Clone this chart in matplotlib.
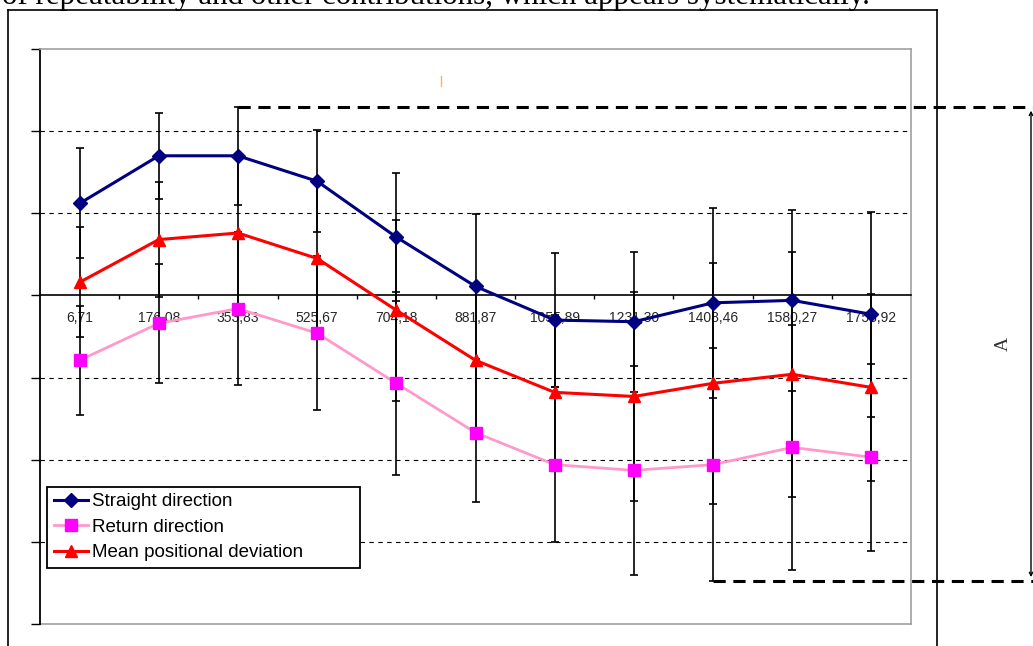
import numpy as np
import matplotlib.pyplot as plt
from matplotlib.lines import Line2D

plt.rcParams['font.family'] = ['Liberation Sans', 'DejaVu Sans']

# Measuring positions (mm) along the axis
positions = ["6,71", "176,08", "353,83", "525,67", "704,18", "881,87",
             "1055,89", "1231,30", "1408,46", "1580,27", "1758,92"]

# Mean deviations and their +/- spread for each direction
straight = [1.12, 1.70, 1.70, 1.39, 0.71, 0.11, -0.30, -0.32, -0.09, -0.06, -0.23]
straight_err = [0.67, 0.52, 0.60, 0.62, 0.78, 0.88, 0.82, 0.85, 1.16, 1.10, 1.25]

ret = [-0.79, -0.34, -0.16, -0.46, -1.07, -1.67, -2.06, -2.13, -2.06, -1.85, -1.97]
ret_err = [0.66, 0.72, 0.93, 0.94, 1.11, 0.84, 0.94, 1.27, 1.42, 1.49, 1.14]

mean_dev = [0.16, 0.68, 0.76, 0.45, -0.18, -0.79, -1.18, -1.23, -1.07, -0.96, -1.12]
mean_err = [0.67, 0.70, 0.93, 0.94, 1.10, 0.88, 0.94, 1.27, 1.47, 1.49, 1.14]

W, H = 1033, 646
fig = plt.figure(figsize=(W / 100, H / 100), dpi=100)
ax = fig.add_axes([40 / W, (H - 624) / H, 871 / W, 575 / H])

x = np.arange(len(positions))
ax.set_xlim(-0.5, len(positions) - 0.5)
ax.set_ylim(-4, 3)

# y axis: ticks only, dashed grid in between
ax.set_yticks(np.arange(-4, 4))
ax.set_yticklabels([])
ax.tick_params(axis='y', direction='out', length=6.5, width=1, color='black')
ax.yaxis.grid(True, color='black', lw=0.8, ls=(0, (4, 4)))
for g, v in zip(ax.get_ygridlines(), np.arange(-4, 4)):
    if v in (-4, 0, 3):
        g.set_visible(False)

# x axis sits on zero, ticks between categories, labels under each category
ax.spines['bottom'].set_position(('data', 0))
ax.spines['bottom'].set_color('black')
ax.spines['bottom'].set_linewidth(1.2)
ax.spines['left'].set_color('black')
ax.spines['left'].set_linewidth(1.3)
for s in ['top', 'right']:
    ax.spines[s].set_color('#a0a0a0')
    ax.spines[s].set_linewidth(1.2)
ax.axhline(-4, color='#a0a0a0', lw=1.2, clip_on=False, zorder=0.5)

ax.set_xticks(x[:-1] + 0.5)
ax.set_xticklabels([])
ax.tick_params(axis='x', which='major', direction='out', length=3, width=1, color='black')
ax.set_xticks(x, minor=True)
ax.set_xticklabels(positions, minor=True, fontsize=10, color='#262626')
ax.tick_params(axis='x', which='minor', length=0, pad=11)

# error bars
for vals, errs in [(straight, straight_err), (ret, ret_err), (mean_dev, mean_err)]:
    ax.errorbar(x, vals, yerr=errs, fmt='none', ecolor='black', elinewidth=1.2,
                capsize=3, capthick=1.2, zorder=2)

ax.plot(x, ret, color='#ff99cc', lw=2, marker='s', ms=8, mfc='#ff00ff', mec='#ff00ff',
        label='Return direction', zorder=3)
ax.plot(x, mean_dev, color='#ff0000', lw=2.2, marker='^', ms=9,
        label='Mean positional deviation', zorder=3.5)
ax.plot(x, straight, color='#000080', lw=2.2, marker='D', ms=7,
        label='Straight direction', zorder=4)

handles, labels = ax.get_legend_handles_labels()
order = [2, 0, 1]
leg = ax.legend([handles[i] for i in order], [labels[i] for i in order],
                loc='lower left', bbox_to_anchor=(7 / 871, 56 / 575, 313 / 871, 82 / 575),
                mode='expand', borderaxespad=0, fancybox=False, edgecolor='black',
                fontsize=13.5, handlelength=1.85, handletextpad=0.2, labelspacing=0.45,
                borderpad=0.35, framealpha=1)
leg.get_frame().set_linewidth(1.3)

# span A between the highest upper limit and the lowest lower limit
upper = np.array(straight) + np.array(straight_err)
lower = np.array(ret) - np.array(ret_err)
i_top, i_bot = int(np.argmax(upper)), int(np.argmin(lower))
top_A, bot_A = upper[i_top], lower[i_bot]

x_edge = ax.transData.inverted().transform(fig.transFigure.transform((1.0, 0)))[0]
x_arrow = ax.transData.inverted().transform(fig.transFigure.transform((1031 / W, 0)))[0]
x_label = ax.transData.inverted().transform(fig.transFigure.transform((1003 / W, 0)))[0]

dash = dict(color='black', lw=2.2, ls=(0, (4, 2.5)), clip_on=False, zorder=5)
ax.plot([x[i_top], x_edge], [top_A, top_A], **dash)
ax.plot([x[i_bot], x_edge], [bot_A, bot_A], **dash)
ax.annotate('', xy=(x_arrow, top_A), xytext=(x_arrow, bot_A), annotation_clip=False,
            arrowprops=dict(arrowstyle='<->', lw=1, color='black', shrinkA=3, shrinkB=3,
                            mutation_scale=6))
ax.text(x_label, (top_A + bot_A) / 2, 'A', rotation=90, ha='center', va='center',
        family='Liberation Serif', fontsize=14, color='#333333', clip_on=False)

# frame of the chart object and the text line above it
box = dict(transform=fig.transFigure, color='black', lw=1.2)
fig.add_artist(Line2D([8 / W, 8 / W], [0, 1 - 10 / H], **box))
fig.add_artist(Line2D([937 / W, 937 / W], [0, 1 - 10 / H], **box))
fig.add_artist(Line2D([8 / W, 937 / W], [1 - 10 / H, 1 - 10 / H], **box))
fig.add_artist(Line2D([441 / W, 441 / W], [1 - 76 / H, 1 - 86 / H],
                      transform=fig.transFigure, color='#ffb060', lw=1))
fig.text(870 / W, 1 - 4 / H,
         "of repeatability and other contributions, which appears systematically.",
         ha='right', va='baseline', family='Liberation Serif', fontsize=22.3)

fig.savefig('out.png', dpi=100)
